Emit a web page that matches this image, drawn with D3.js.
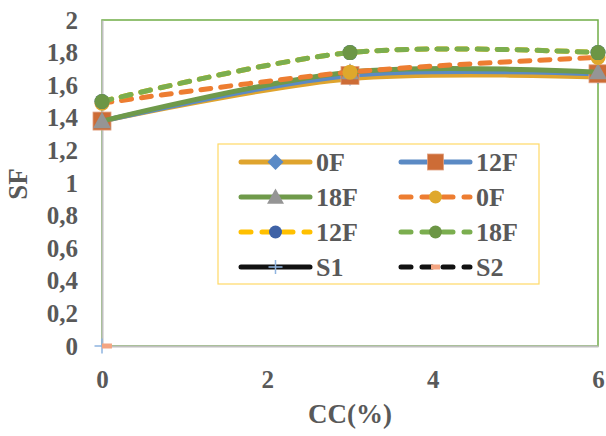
<!DOCTYPE html>
<html>
<head>
<meta charset="utf-8">
<script src="https://cdn.jsdelivr.net/npm/d3@7"></script>
<style>
  body { margin: 0; background: #fff; }
  text { font-family: "Liberation Serif", "Times New Roman", serif; font-weight: bold; fill: #595959; }
</style>
</head>
<body>
<div id="chart"></div>
<script>
// Data
const ccValues = [0, 3, 6];
const sf0F = [1.38, 1.64, 1.65];
const sf12F = [1.38, 1.66, 1.67];
const sf18F = [1.38, 1.68, 1.68];
const sf0Fd = [1.49, 1.68, 1.77];
const sf12Fd = [1.50, 1.80, 1.80];
const sf18Fd = [1.50, 1.80, 1.80];
const s1X = [0];
const s1Y = [0];
const s2X = [0.06];
const s2Y = [0];
const seriesNames = ["0F", "12F", "18F", "0F", "12F", "18F", "S1", "S2"];
const xTicks = [0, 2, 4, 6];
const yTicks = [0, 0.2, 0.4, 0.6, 0.8, 1, 1.2, 1.4, 1.6, 1.8, 2];

const width = 606, height = 436;
const margin = { top: 20, right: 8, bottom: 90, left: 102 };

const svg = d3.select("#chart").append("svg")
  .attr("width", width)
  .attr("height", height);

const x = d3.scaleLinear().domain([0, 6]).range([margin.left, width - margin.right]);
const y = d3.scaleLinear().domain([0, 2]).range([height - margin.bottom, margin.top]);

const locale = d3.formatLocale({ decimal: ",", thousands: ".", grouping: [3], currency: ["", ""] });
const fmt = v => locale.format("")(+v.toFixed(1));

// plot area border (green top/right)
svg.append("rect")
  .attr("x", x(0)).attr("y", y(2))
  .attr("width", x(6) - x(0)).attr("height", y(0) - y(2))
  .attr("fill", "none").attr("stroke", "#70ad47").attr("stroke-width", 1.5);

// axes
const yAxis = svg.append("g")
  .attr("transform", `translate(${x(0)},0)`)
  .call(d3.axisLeft(y).tickValues(yTicks).tickSize(0).tickPadding(24).tickFormat(fmt));
yAxis.select(".domain").attr("stroke", "#bfbfbf").attr("stroke-width", 2);
yAxis.selectAll("text").style("font-size", "25px").attr("fill", "#595959")
  .style("font-family", "Liberation Serif").style("font-weight", "bold");

const xAxis = svg.append("g")
  .attr("transform", `translate(0,${y(0)})`)
  .call(d3.axisBottom(x).tickValues(xTicks).tickSize(0).tickPadding(24).tickFormat(d3.format("d")));
xAxis.select(".domain").attr("stroke", "#bfbfbf").attr("stroke-width", 2);
xAxis.selectAll("text").style("font-size", "25px").attr("fill", "#595959")
  .style("font-family", "Liberation Serif").style("font-weight", "bold");

// axis titles
svg.append("text")
  .attr("x", (x(0) + x(6)) / 2).attr("y", 423)
  .attr("text-anchor", "middle")
  .style("font-size", "27px")
  .text("CC(%)");

svg.append("text")
  .attr("transform", "translate(27,184) rotate(-90)")
  .attr("text-anchor", "middle")
  .style("font-size", "27px")
  .text("SF");

// series definitions
const series = [
  { name: seriesNames[0], xs: ccValues, ys: sf0F, line: "#dfa42e", dash: null, marker: "diamond", fill: "#5a8ac6", size: 14, legendSize: 16 },
  { name: seriesNames[1], xs: ccValues, ys: sf12F, line: "#5b8ac4", dash: null, marker: "square", fill: "#cd6c36", size: 18, legendSize: 16 },
  { name: seriesNames[2], xs: ccValues, ys: sf18F, line: "#6f9a4a", dash: null, marker: "triangle", fill: "#959595", size: 18, legendSize: 17 },
  { name: seriesNames[3], xs: ccValues, ys: sf0Fd, line: "#ed7d31", dash: "10,10", marker: "circle", fill: "#dfa82c", size: 15, legendSize: 13 },
  { name: seriesNames[4], xs: ccValues, ys: sf12Fd, line: "#ffc000", dash: "10,10", marker: "circle", fill: "#3f62a6", size: 15, legendSize: 13 },
  { name: seriesNames[5], xs: ccValues, ys: sf18Fd, line: "#7bae4f", dash: "10,10", marker: "circle", fill: "#6c9645", size: 15, legendSize: 13 },
  { name: seriesNames[6], xs: s1X, ys: s1Y, line: "#111", dash: null, marker: "plus", fill: "#8fb4e0", size: 15, legendSize: 14 },
  { name: seriesNames[7], xs: s2X, ys: s2Y, line: "#111", dash: "10,10", marker: "dash", fill: "#f4a582", size: 10, legendSize: 9 }
];

const line = d3.line()
  .x(d => x(d[0]))
  .y(d => y(d[1]))
  .curve(d3.curveCardinal.tension(0));

function drawMarker(g, type, cx, cy, size, fill) {
  const h = size / 2;
  if (type === "diamond") {
    g.append("path").attr("d", `M${cx},${cy - h}L${cx + h},${cy}L${cx},${cy + h}L${cx - h},${cy}Z`).attr("fill", fill);
  } else if (type === "square") {
    g.append("rect").attr("x", cx - h).attr("y", cy - h).attr("width", size).attr("height", size)
      .attr("fill", fill).attr("stroke", "#e0a080").attr("stroke-width", 0.8);
  } else if (type === "triangle") {
    g.append("path").attr("d", `M${cx},${cy - h}L${cx + h},${cy + h * 0.8}L${cx - h},${cy + h * 0.8}Z`).attr("fill", fill);
  } else if (type === "circle") {
    g.append("circle").attr("cx", cx).attr("cy", cy).attr("r", h).attr("fill", fill);
  } else if (type === "plus") {
    g.append("path").attr("d", `M${cx - h},${cy}H${cx + h}M${cx},${cy - h}V${cy + h}`)
      .attr("stroke", fill).attr("stroke-width", 1.5).attr("fill", "none");
  } else if (type === "dash") {
    g.append("rect").attr("x", cx - h).attr("y", cy - 2.5).attr("width", size).attr("height", 5).attr("fill", fill);
  }
}

series.forEach(s => {
  const g = svg.append("g");
  const pts = s.xs.map((v, i) => [v, s.ys[i]]);
  if (pts.length > 1) {
    g.append("path")
      .attr("d", line(pts))
      .attr("fill", "none")
      .attr("stroke", s.line)
      .attr("stroke-width", 5)
      .attr("stroke-linecap", "round")
      .attr("stroke-dasharray", s.dash);
  }
  pts.forEach(p => drawMarker(g, s.marker, x(p[0]), y(p[1]), s.size, s.fill));
});

// legend
const legend = svg.append("g");
legend.append("rect")
  .attr("x", 218).attr("y", 144).attr("width", 321).attr("height", 140)
  .attr("fill", "#fff").attr("stroke", "#ffd966").attr("stroke-width", 1.2);

series.forEach((s, i) => {
  const col = i % 2, row = Math.floor(i / 2);
  const lx = 241 + col * 160, ly = 162 + row * 35;
  const g = legend.append("g");
  g.append("line")
    .attr("x1", lx).attr("x2", lx + 69).attr("y1", ly).attr("y2", ly)
    .attr("stroke", s.line).attr("stroke-width", 5)
    .attr("stroke-linecap", "round")
    .attr("stroke-dasharray", s.dash ? "10,11" : null);
  drawMarker(g, s.marker, lx + 34.5, ly, s.legendSize, s.fill);
  g.append("text")
    .attr("x", lx + 75).attr("y", ly)
    .attr("dy", "0.35em")
    .style("font-size", "26px")
    .text(s.name);
});
</script>
</body>
</html>
